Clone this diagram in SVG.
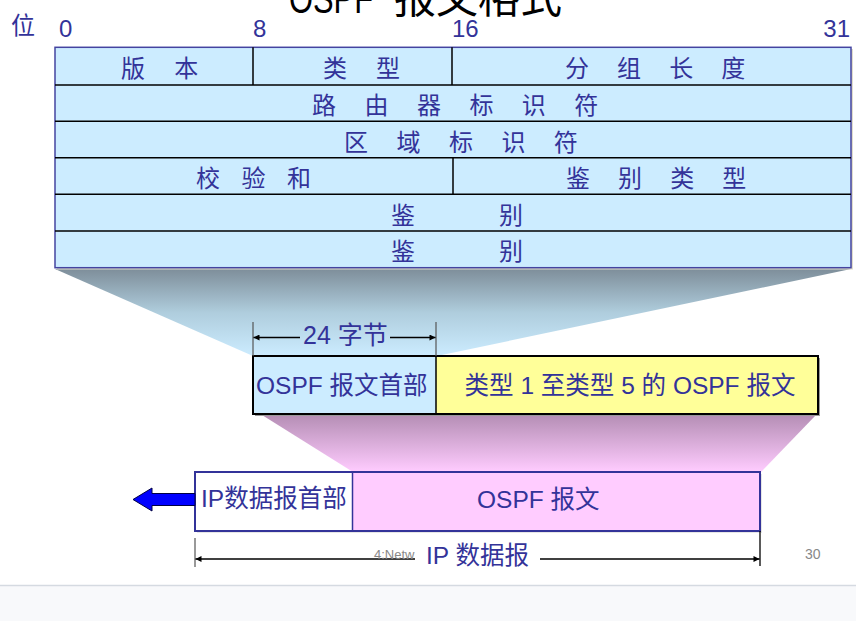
<svg xmlns="http://www.w3.org/2000/svg" width="856" height="621" viewBox="0 0 856 621">
<style>
.t{font-family:"Liberation Sans","Noto Sans CJK SC",sans-serif;fill:#333399;font-size:24px}
.cell{fill:#CCECFF}
.ln{stroke:#000;stroke-width:1.5;fill:none}
.dim{stroke:#000;stroke-width:1.3;fill:none}
.gray{font-family:"Liberation Sans",sans-serif;fill:#888}
</style>
<defs>
<linearGradient id="gBlue" x1="0" y1="0" x2="0" y2="1">
<stop offset="0" stop-color="#7E8E9A"/>
<stop offset="0.5" stop-color="#AFCDDD"/>
<stop offset="1" stop-color="#CCECFF"/>
</linearGradient>
<linearGradient id="gPink" x1="0" y1="0" x2="0" y2="1">
<stop offset="0" stop-color="#B58EB5"/>
<stop offset="1" stop-color="#FFCCFF"/>
</linearGradient>
<marker id="ah" viewBox="0 0 10 10" refX="10" refY="5" markerWidth="9" markerHeight="6" markerUnits="userSpaceOnUse" orient="auto-start-reverse">
<path d="M0,0 L10,5 L0,10 Z" fill="#000"/>
</marker>
</defs>

<rect x="0" y="585" width="856" height="36" fill="#F8F9FB"/>
<line x1="0" y1="585.5" x2="856" y2="585.5" stroke="#D5DAE1" stroke-width="1.5"/>

<g id="title">
<text x="289" y="12.5" style="font-family:'Liberation Sans','Noto Sans CJK SC',sans-serif;font-size:42px;fill:#000"><tspan textLength="84" lengthAdjust="spacingAndGlyphs">OSPF</tspan><tspan x="394">报文格式</tspan></text>
</g>

<g id="bit-scale">
<text class="t" x="11" y="34">位</text>
<text class="t" x="59" y="36.7">0</text>
<text class="t" x="253" y="36.7">8</text>
<text class="t" x="452" y="36.7">16</text>
<text class="t" x="850" y="36.7" text-anchor="end">31</text>
</g>

<polygon id="zoom-blue" points="55,269 851,269 437,356 253,356" fill="url(#gBlue)"/>

<g id="header-table">
<rect x="57" y="49" width="796" height="220.5" fill="#E0DDCC"/>
<rect class="cell" x="55" y="47.3" width="796" height="220.4" stroke="#4444A0" stroke-width="1.5"/>
<line class="ln" x1="55" y1="85" x2="851" y2="85"/>
<line class="ln" x1="55" y1="121.3" x2="851" y2="121.3"/>
<line class="ln" x1="55" y1="157.7" x2="851" y2="157.7"/>
<line class="ln" x1="55" y1="194.3" x2="851" y2="194.3"/>
<line class="ln" x1="55" y1="231" x2="851" y2="231"/>
<line class="ln" x1="253" y1="47.3" x2="253" y2="85"/>
<line class="ln" x1="452" y1="47.3" x2="452" y2="85"/>
<line class="ln" x1="453" y1="157.7" x2="453" y2="194.3"/>
<text class="t" x="121" y="77" style="letter-spacing:11.3px">版 本</text>
<text class="t" x="323" y="77" style="letter-spacing:11.2px">类 型</text>
<text class="t" x="565" y="77" style="letter-spacing:10.7px">分 组 长 度</text>
<text class="t" x="312" y="114" style="letter-spacing:10.9px">路 由 器 标 识 符</text>
<text class="t" x="344" y="150.5" style="letter-spacing:10.9px">区 域 标 识 符</text>
<text class="t" x="196" y="187" style="letter-spacing:7.4px">校 验 和</text>
<text class="t" x="566" y="187" style="letter-spacing:10.7px">鉴 别 类 型</text>
<text class="t" x="391" y="223.5" style="letter-spacing:38.7px">鉴 别</text>
<text class="t" x="391" y="260" style="letter-spacing:38.7px">鉴 别</text>
</g>

<polygon id="zoom-pink" points="262,415 816,415 761,472 353,472" fill="url(#gPink)"/>

<g id="ospf-packet">
<rect x="255" y="358" width="565" height="58" fill="#9A9A9A"/>
<rect x="253" y="356" width="183" height="58" fill="#CCECFF"/>
<rect x="436" y="356" width="382" height="58" fill="#FFFF99"/>
<rect x="253" y="356" width="565" height="58" fill="none" stroke="#000" stroke-width="2"/>
<line x1="436" y1="356" x2="436" y2="414" stroke="#000" stroke-width="1.5"/>
<text class="t" x="256" y="394" style="font-size:24.5px">OSPF 报文首部</text>
<text class="t" x="630" y="394" text-anchor="middle" style="font-size:24.5px">类型 1 至类型 5 的 OSPF 报文</text>
</g>

<g id="ip-datagram">
<rect x="197" y="474" width="565" height="59" fill="#E6E6E6"/>
<rect x="195" y="472" width="157.5" height="59" fill="#FFFFFF"/>
<rect x="352.5" y="472" width="407.5" height="59" fill="#FFCCFF"/>
<rect x="195" y="472" width="565" height="59" fill="none" stroke="#333399" stroke-width="2"/>
<line x1="352.5" y1="472" x2="352.5" y2="531" stroke="#333399" stroke-width="1.5"/>
<text class="t" x="201" y="507" style="font-size:24.5px">IP数据报首部</text>
<text class="t" x="477" y="508" style="font-size:24.5px">OSPF 报文</text>
</g>

<g id="connectors">
<line x1="253" y1="322" x2="253" y2="356" stroke="#555" stroke-width="1.2"/>
<line x1="436" y1="322" x2="436" y2="356" stroke="#555" stroke-width="1.2"/>
<line class="dim" x1="300" y1="337.5" x2="253.5" y2="337.5" marker-end="url(#ah)"/>
<line class="dim" x1="390" y1="337.5" x2="435.5" y2="337.5" marker-end="url(#ah)"/>
<line x1="195" y1="538" x2="195" y2="567" stroke="#777" stroke-width="1.5"/>
<line x1="760" y1="531" x2="760" y2="566" stroke="#000" stroke-width="1.3"/>
<line class="dim" x1="415" y1="559" x2="195.5" y2="559" marker-end="url(#ah)"/>
<line class="dim" x1="540" y1="559" x2="759.5" y2="559" marker-end="url(#ah)"/>
<polygon id="blue-arrow" points="195,493.5 152,493.5 152,488 133,499.5 152,511 152,505.5 195,505.5" fill="#0000FF" stroke="#000044" stroke-width="1"/>
</g>

<g id="labels">
<text class="t" x="303" y="344" style="font-size:25px">24 字节</text>
<text class="gray" x="374" y="559" font-size="13">4:Netw</text>
<text class="t" x="426" y="564" style="font-size:24.5px">IP 数据报</text>
<text class="gray" x="805" y="559" font-size="14">30</text>
</g>
</svg>
